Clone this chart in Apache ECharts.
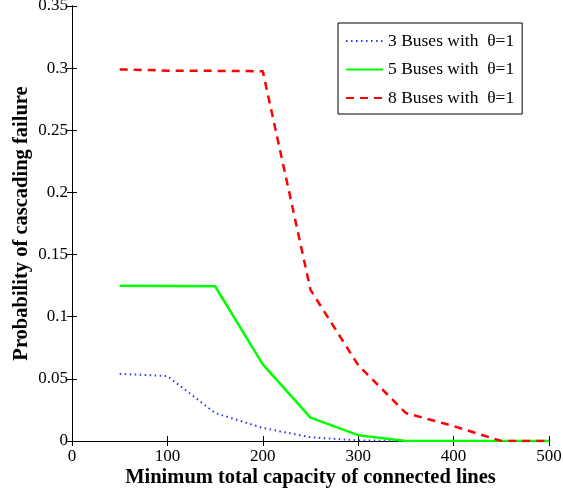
<!DOCTYPE html>
<html><head><meta charset="utf-8">
<script src="https://cdn.jsdelivr.net/npm/echarts@6/dist/echarts.min.js"></script>
<style>html,body{margin:0;padding:0;background:#fff}#c{width:563px;height:491px}</style>
</head><body><div id="c"></div>
<script>
const xValues = [50, 100, 150, 200, 250, 300, 350, 400, 450, 500];
const bus3 = [0.054, 0.0523, 0.0225, 0.0105, 0.003, 0.0005, 0, 0, 0, 0];
const bus5 = [0.125, 0.1248, 0.1245, 0.0617, 0.0188, 0.0047, 0, 0, 0, 0];
const bus8 = [0.299, 0.298, 0.2978, 0.2975, 0.1216, 0.061, 0.0225, 0.012, 0, 0];
const seriesNames = ['3 Buses with  θ=1', '5 Buses with  θ=1', '8 Buses with  θ=1'];
const yTicks = [0, 0.05, 0.1, 0.15, 0.2, 0.25, 0.3, 0.35];

const font = 'Liberation Serif';
const chart = echarts.init(document.getElementById('c'));
const pair = arr => xValues.map((x, i) => [x, arr[i]]);
const axisLineStyle = {lineStyle: {color: '#000', width: 1}};
const tick = {show: true, inside: true, length: 5, lineStyle: {color: '#000'}};
chart.setOption({
  animation: false,
  grid: {left: 72, right: 14, top: 6, bottom: 50, outerBoundsMode: 'none', containLabel: false},
  xAxis: [{
    type: 'value', min: 0, max: 500, interval: 100,
    axisLine: {show: true, ...axisLineStyle},
    axisTick: tick,
    splitLine: {show: false},
    axisLabel: {color: '#000', fontFamily: font, fontSize: 17, margin: 7},
    name: 'Minimum total capacity of connected lines', nameLocation: 'middle', nameGap: 26,
    nameMoveOverlap: false,
    nameTextStyle: {color: '#000', fontFamily: font, fontSize: 20.5, fontWeight: 'bold'}
  }, {
    type: 'value', min: 0, max: 500, interval: 100, position: 'top',
    axisLine: {show: true, ...axisLineStyle},
    axisTick: tick,
    axisLabel: {show: false}, splitLine: {show: false}
  }],
  yAxis: [{
    type: 'value', min: 0, max: 0.35, interval: 0.05,
    axisLine: {show: true, ...axisLineStyle},
    axisTick: tick,
    splitLine: {show: false},
    axisLabel: {color: '#000', fontFamily: font, fontSize: 17, margin: 4,
      formatter: v => { const t = yTicks.find(k => Math.abs(k - v) < 1e-9); return String(+(t !== undefined ? t : v).toFixed(2)); }},
    name: 'Probability of cascading failure', nameLocation: 'middle', nameGap: 40,
    nameMoveOverlap: false,
    nameTextStyle: {color: '#000', fontFamily: font, fontSize: 20.5, fontWeight: 'bold'}
  }, {
    type: 'value', min: 0, max: 0.35, interval: 0.05, position: 'right',
    axisLine: {show: true, ...axisLineStyle},
    axisTick: tick,
    axisLabel: {show: false}, splitLine: {show: false}
  }],
  legend: {
    orient: 'vertical', left: 338, top: 23, width: 191,
    padding: [9, 8, 7, 7], itemGap: 10.5, itemWidth: 37, itemHeight: 14,
    borderColor: '#000', borderWidth: 1, backgroundColor: '#fff',
    itemStyle: {opacity: 0},
    textStyle: {color: '#000', fontFamily: font, fontSize: 17.5},
    data: seriesNames
  },
  series: [
    {name: seriesNames[0], type: 'line', data: pair(bus3), symbol: 'none', z: 2,
     lineStyle: {color: '#3333ff', width: 2, type: [1.5, 3.5]}, itemStyle: {color: '#3333ff'}},
    {name: seriesNames[1], type: 'line', data: pair(bus5), symbol: 'none', z: 3,
     lineStyle: {color: '#00ff00', width: 2.5, type: 'solid'}, itemStyle: {color: '#00ff00'}},
    {name: seriesNames[2], type: 'line', data: pair(bus8), symbol: 'none', z: 4,
     lineStyle: {color: '#ff0000', width: 2.5, type: [8, 6]}, itemStyle: {color: '#ff0000'}}
  ]
});
</script></body></html>
